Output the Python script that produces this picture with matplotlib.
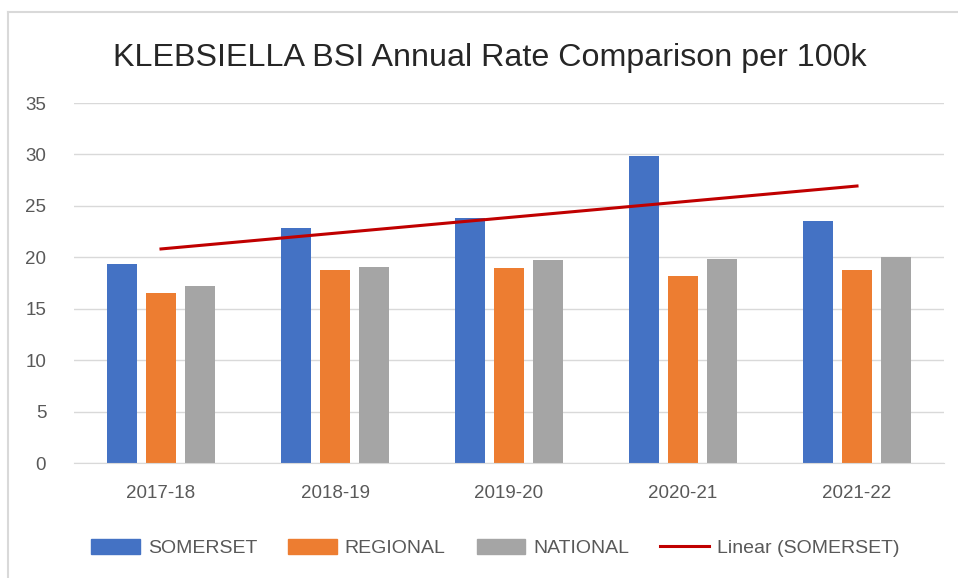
import matplotlib
matplotlib.use("Agg")
import matplotlib.pyplot as plt
from matplotlib.patches import Patch
from matplotlib.lines import Line2D
import numpy as np

years = ["2017-18", "2018-19", "2019-20", "2020-21", "2021-22"]
somerset = [19.35, 22.85, 23.8, 29.85, 23.5]
regional = [16.5, 18.8, 18.95, 18.2, 18.8]
national = [17.2, 19.05, 19.7, 19.8, 20.0]

blue = "#4472C4"
orange = "#ED7D31"
grey = "#A5A5A5"
trend_red = "#C00000"
txt = "#595959"

plt.rcParams['font.family'] = ['Liberation Sans Narrow', 'Liberation Sans', 'DejaVu Sans']

fig = plt.figure(figsize=(9.58, 5.78), dpi=100)
# chart frame edges (top and left only show)
fig.add_artist(Line2D([8 / 958, 1], [1 - 12 / 578, 1 - 12 / 578],
                      transform=fig.transFigure, color="#D9D9D9", linewidth=1.5))
fig.add_artist(Line2D([8 / 958, 8 / 958], [0, 1 - 12 / 578],
                      transform=fig.transFigure, color="#D9D9D9", linewidth=1.5))

ax = fig.add_axes([74 / 958, 115 / 578, 870 / 958, 360 / 578])
x = np.arange(len(years))
w = 0.167
off = 0.224
ax.bar(x - off, somerset, w, color=blue, zorder=2)
ax.bar(x, regional, w, color=orange, zorder=2)
ax.bar(x + off, national, w, color=grey, zorder=2)

# linear trendline through the SOMERSET series
k, b = np.polyfit(x, somerset, 1)
ax.plot(x, k * x + b, color=trend_red, linewidth=2.2, zorder=3)

ax.set_xlim(-0.5, len(years) - 0.5)
ax.set_ylim(0, 35)
ax.set_yticks(range(0, 36, 5))
ax.set_xticks(x)
ax.set_xticklabels(years)
ax.yaxis.grid(True, color="#D9D9D9", linewidth=1, zorder=0)
for s in ["top", "right", "left"]:
    ax.spines[s].set_visible(False)
ax.spines["bottom"].set_color("#D9D9D9")
ax.tick_params(axis="both", length=0, colors=txt, labelsize=13.5)
ax.tick_params(axis="y", pad=20)
ax.tick_params(axis="x", pad=16)

fig.text(0.511, 0.9, "KLEBSIELLA BSI Annual Rate Comparison per 100k",
         ha="center", va="center", fontsize=23.2, color="#262626",
         family=['Liberation Sans', 'DejaVu Sans'])

handles = [Patch(color=blue), Patch(color=orange), Patch(color=grey),
           Line2D([0], [0], color=trend_red, linewidth=2.2)]
labels = ["SOMERSET", "REGIONAL", "NATIONAL", "Linear (SOMERSET)"]
fig.legend(handles, labels, loc="center", bbox_to_anchor=(0.517, 0.052),
           ncol=4, frameon=False, fontsize=14, labelcolor=txt,
           handlelength=2.5, handleheight=0.8, columnspacing=1.6,
           handletextpad=0.4)

fig.savefig("out.png", dpi=100, facecolor="white")
